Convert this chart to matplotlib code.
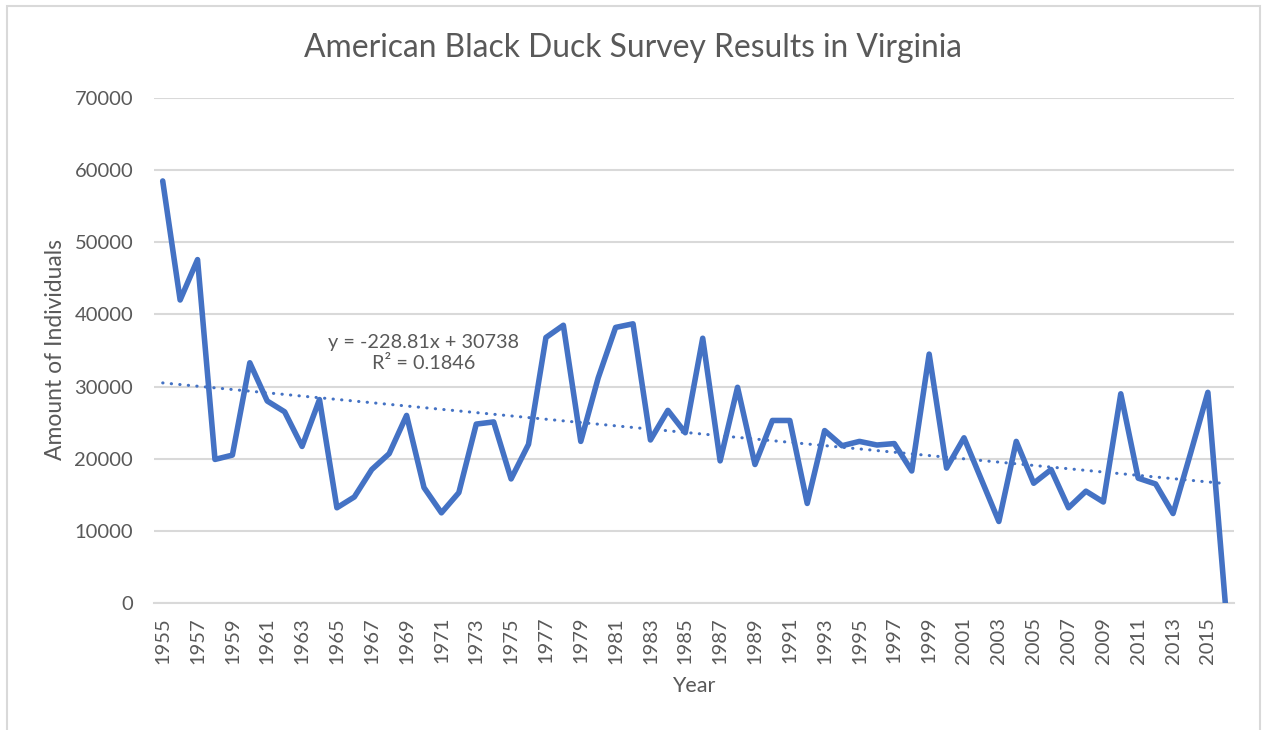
import matplotlib
matplotlib.use("Agg")
import matplotlib.pyplot as plt
from matplotlib.patches import Rectangle
import numpy as np

years = list(range(1955, 2017))
counts = [58500, 42000, 47600, 19900, 20500, 33300, 28000, 26500, 21700, 28200,
          13200, 14700, 18500, 20700, 26000, 16000, 12500, 15300, 24800, 25100,
          17200, 22000, 36800, 38500, 22400, 31200, 38200, 38700, 22600, 26700,
          23600, 36700, 19700, 29900, 19200, 25300, 25300, 13800, 23900, 21800,
          22400, 21900, 22100, 18300, 34500, 18700, 22900, 17100, 11300, 22400,
          16600, 18500, 13200, 15500, 14000, 29000, 17300, 16500, 12400, 20700,
          29200, 0]
trend_slope = -228.81
trend_intercept = 30738
r_squared = 0.1846
yticks = [0, 10000, 20000, 30000, 40000, 50000, 60000, 70000]

title = "American Black Duck Survey Results in Virginia"
xlabel = "Year"
ylabel = "Amount of Individuals"

FONT = ["Lato", "DejaVu Sans"]
plt.rcParams["font.family"] = FONT
TXT = "#595959"
GRID = "#D9D9D9"
BLUE = "#4472C4"

W, H = 1262, 730
fig = plt.figure(figsize=(W / 100, H / 100), dpi=100)
fig.patch.set_facecolor("white")

# outer chart border
fig.patches.append(Rectangle((7 / W, -0.05), (1260 - 7) / W, 1 - 6 / H + 0.05,
                             transform=fig.transFigure, fill=False,
                             edgecolor=GRID, linewidth=1.5, zorder=0))

left, right, top, bottom = 154, 1234, 98, 603
ax = fig.add_axes([left / W, 1 - bottom / H, (right - left) / W, (bottom - top) / H])

idx = np.arange(len(years))
ax.plot(idx, counts, color=BLUE, lw=4.0, solid_joinstyle="round",
        solid_capstyle="round", zorder=3)

tx = np.array([idx[0], idx[-1]])
ty = trend_slope * (tx + 1) + trend_intercept
ax.plot(tx, ty, color=BLUE, lw=2.2, linestyle=(0, (0.1, 2.7)),
        dash_capstyle="round", zorder=2)

ax.set_xlim(-0.5, len(years) - 0.5)
ax.set_ylim(0, 70000)
ax.set_yticks(yticks)
ax.set_yticklabels([str(v) for v in yticks])
ax.set_xticks(idx[::2])
ax.set_xticklabels([str(y) for y in years[::2]], rotation=90)
ax.tick_params(axis="y", length=0, pad=15, labelsize=14.5, labelcolor=TXT)
ax.tick_params(axis="x", length=0, pad=10, labelsize=14.5, labelcolor=TXT)
ax.grid(axis="y", color=GRID, lw=1.5, zorder=0)
ax.set_axisbelow(True)
for s in ["top", "right", "left"]:
    ax.spines[s].set_visible(False)
ax.spines["bottom"].set_color(GRID)
ax.spines["bottom"].set_linewidth(1.5)

fig.text(633 / W, 1 - 48 / H, title, ha="center", va="center", fontsize=22.9, color=TXT)
fig.text(694 / W, 1 - 686 / H, xlabel, ha="center", va="center", fontsize=15.5, color=TXT)
fig.text(55 / W, 1 - 350 / H, ylabel, ha="center", va="center", rotation=90,
         fontsize=16.5, color=TXT)
fig.text(424 / W, 1 - 353 / H,
         f"y = {trend_slope}x + {trend_intercept}\nR\u00b2 = {r_squared}",
         ha="center", va="center", fontsize=14.3, color=TXT, linespacing=1.35)

fig.savefig("out.png", dpi=100, facecolor="white")
